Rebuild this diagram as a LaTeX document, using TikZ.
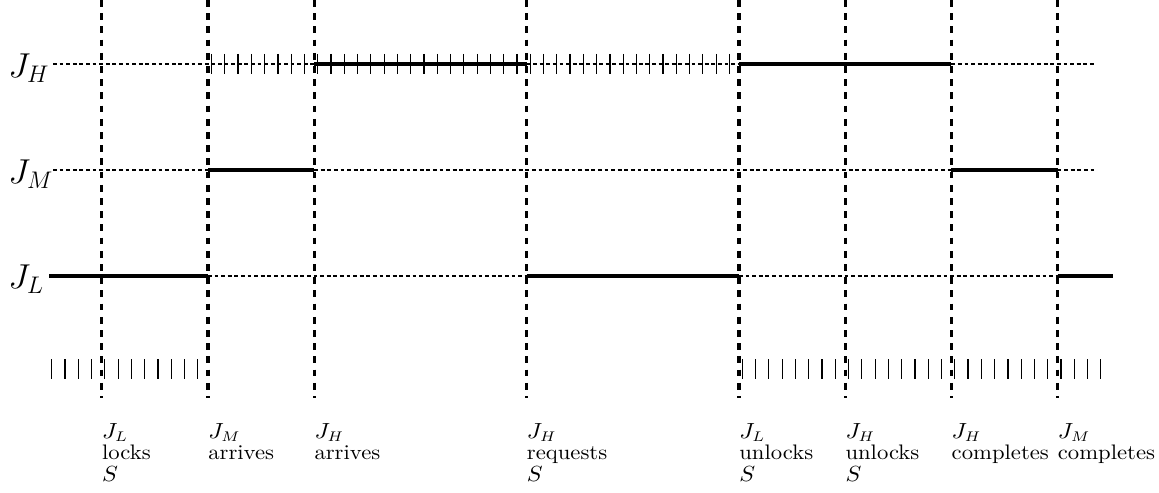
\documentclass[tikz,border=0pt]{standalone}
\usepackage{graphicx}
\begin{document}
\begin{tikzpicture}[x=0.5pt,y=-0.5pt,
  grid/.style={line width=1.6pt,dash pattern=on 3.4pt off 3.2pt},
  idle/.style={line width=1.4pt,dash pattern=on 1.9pt off 1.4pt},
  busy/.style={line width=1.7pt},
  tickmark/.style={line width=0.6pt},
  jobname/.style={inner sep=0pt,anchor=base west,font=\fontsize{17}{19}\selectfont},
  event/.style={inner sep=0pt,anchor=base west,font=\fontsize{10.5}{10.8}\selectfont}]
\useasboundingbox (0,0) rectangle (1159,492);

% time instants and lane heights
\foreach \k/\n in {0/t0,1/t1,2/t2,4/t4,6/t6,7/t7,8/t8,9/t9}
  \coordinate (\n) at ({101.7+106.2*\k},0);
\coordinate (hH) at (0,64);
\coordinate (hM) at (0,170);
\coordinate (hL) at (0,276);
\coordinate (evt) at (0,438);

% vertical event markers
\foreach \n in {t0,t1,t2,t4,t6,t7,t8,t9}
  \draw[grid] (\n) -- ++(0,398);

% J_H lane
\draw[idle] (53,64) -- (t2 |- hH);
\draw[busy] (t2 |- hH) -- (t4 |- hH);
\draw[idle] (t4 |- hH) -- (t6 |- hH);
\draw[busy] (t6 |- hH) -- (t8 |- hH);
\draw[idle] (t8 |- hH) -- (1094,64);

% J_M lane
\draw[idle] (53,170) -- (t1 |- hM);
\draw[busy] (t1 |- hM) -- (t2 |- hM);
\draw[idle] (t2 |- hM) -- (t8 |- hM);
\draw[busy] (t8 |- hM) -- (t9 |- hM);
\draw[idle] (t9 |- hM) -- (1094,170);

% J_L lane
\draw[busy] (49,276) -- (t1 |- hL);
\draw[idle] (t1 |- hL) -- (t4 |- hL);
\draw[busy] (t4 |- hL) -- (t6 |- hL);
\draw[idle] (t6 |- hL) -- (t9 |- hL);
\draw[busy] (t9 |- hL) -- (1113,276);

% hatching: J_H blocked / S held
\foreach \i in {0,...,39}
  \draw[tickmark] ({211.5+13.28*\i},54) -- ++(0,20);
\foreach \i in {0,...,11}
  \draw[tickmark] ({51.7+13.28*\i},359) -- ++(0,20);
\foreach \i in {0,...,27}
  \draw[tickmark] ({742.3+13.28*\i},359) -- ++(0,20);

% job names
\node[jobname] (nH) at (8,77) {$J_H$};
\node[jobname] (nM) at (8,183) {$J_M$};
\node[jobname] (nL) at (8,288) {$J_L$};

% event captions
\newcommand{\evcap}[1]{\scalebox{1.08}[1]{\begin{tabular}[t]{@{}l@{}}#1\end{tabular}}}
\node[event] (c0) at (t0 |- evt) {\evcap{$J_L$\\locks\\$S$}};
\node[event] (c1) at (t1 |- evt) {\evcap{$J_M$\\arrives}};
\node[event] (c2) at (t2 |- evt) {\evcap{$J_H$\\arrives}};
\node[event] (c4) at (t4 |- evt) {\evcap{$J_H$\\requests\\$S$}};
\node[event] (c6) at (t6 |- evt) {\evcap{$J_L$\\unlocks\\$S$}};
\node[event] (c7) at (t7 |- evt) {\evcap{$J_H$\\unlocks\\$S$}};
\node[event] (c8) at (t8 |- evt) {\evcap{$J_H$\\completes}};
\node[event] (c9) at (t9 |- evt) {\evcap{$J_M$\\completes}};
\end{tikzpicture}
\end{document}
